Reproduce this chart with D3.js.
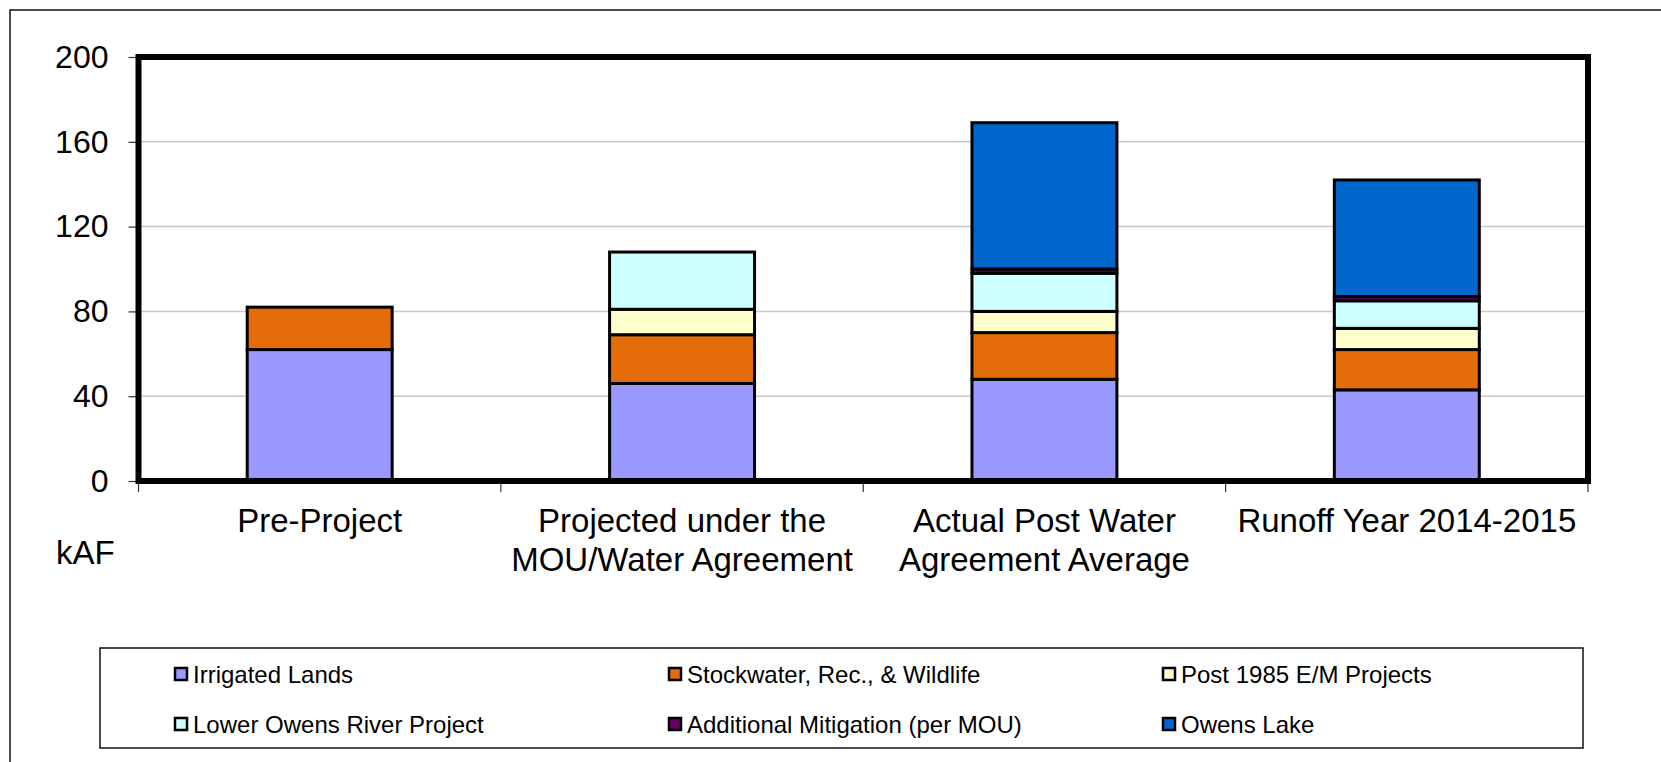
<!DOCTYPE html>
<html>
<head>
<meta charset="utf-8">
<script src="https://cdn.jsdelivr.net/npm/d3@7"></script>
<style>
  body { margin: 0; background: #fff; }
  text { font-family: Arial, "Liberation Sans", sans-serif; fill: #000; }
</style>
</head>
<body>
<div id="chart"></div>
<script>
// categories, one array of lines per label
const categories = ["pre", "projected", "actual", "runoff"]
const categoryLabels = [
    ["Pre-Project"],
    ["Projected under the", "MOU/Water Agreement"],
    ["Actual Post Water", "Agreement Average"],
    ["Runoff Year 2014-2015"]
]

// series (kAF), bottom to top
const seriesNames = ["Irrigated Lands", "Stockwater, Rec., & Wildlife", "Post 1985 E/M Projects",
    "Lower Owens River Project", "Additional Mitigation (per MOU)", "Owens Lake"]
const irrigated = [62, 46, 48, 43]
const stockwater = [20, 23, 22, 19]
const post1985 = [0, 12, 10, 10]
const lorp = [0, 27, 18, 13]
const mitigation = [0, 0, 2, 2]
const owensLake = [0, 0, 69, 55]
const seriesColors = ["#9999FF", "#E46C0A", "#FFFFCC", "#CCFFFF", "#660066", "#0066CC"]

const yTicks = [0, 40, 80, 120, 160, 200]

const width = 1661
const height = 762
const plot = { left: 138.5, right: 1588, top: 57, bottom: 481 }

const allSeries = [irrigated, stockwater, post1985, lorp, mitigation, owensLake]
const data = categories.map((c, i) => {
    const row = { category: c }
    seriesNames.forEach((s, j) => row[s] = allSeries[j][i])
    return row
})

const stacked = d3.stack().keys(seriesNames)(data)

const xScale = d3.scaleBand()
    .domain(categories)
    .range([plot.left, plot.right])
    .paddingInner(0.6)
    .paddingOuter(0.3)

const yScale = d3.scaleLinear()
    .domain([0, 200])
    .range([plot.bottom, plot.top])

const color = d3.scaleOrdinal()
    .domain(seriesNames)
    .range(seriesColors)

const svg = d3.select("#chart")
    .append("svg")
    .attr("width", width)
    .attr("height", height)

// outer frame (runs off the right and bottom edges)
svg.append("rect")
    .attr("x", 10)
    .attr("y", 10)
    .attr("width", width + 20)
    .attr("height", height + 20)
    .attr("fill", "none")
    .attr("stroke", "#111")
    .attr("stroke-width", 1.5)

// gridlines
svg.selectAll("line.grid")
    .data(yTicks.slice(1, -1))
    .join("line")
    .attr("class", "grid")
    .attr("x1", plot.left)
    .attr("x2", plot.right)
    .attr("y1", d => yScale(d))
    .attr("y2", d => yScale(d))
    .attr("stroke", "#c8c8c8")
    .attr("stroke-width", 1.5)

// y axis
const yAxis = svg.append("g")
    .attr("transform", `translate(${plot.left},0)`)
    .call(d3.axisLeft(yScale).tickValues(yTicks).tickSize(10).tickPadding(20))
yAxis.select(".domain").remove()
yAxis.selectAll(".tick line").attr("stroke", "#333").attr("stroke-width", 1.2)
yAxis.selectAll(".tick text")
    .attr("font-size", 32)
    .attr("font-family", "Arial, 'Liberation Sans', sans-serif")
    .attr("fill", "#000")

// category ticks under the axis
const boundaries = categories.map(c => xScale(c) - xScale.step() * 0.3).concat([plot.right])
svg.selectAll("line.xtick")
    .data(boundaries)
    .join("line")
    .attr("class", "xtick")
    .attr("x1", d => d)
    .attr("x2", d => d)
    .attr("y1", plot.bottom)
    .attr("y2", plot.bottom + 11)
    .attr("stroke", "#333")
    .attr("stroke-width", 1.2)

// stacked bars
svg.selectAll("g.series")
    .data(stacked)
    .join("g")
    .attr("class", "series")
    .attr("fill", d => color(d.key))
    .selectAll("rect")
    .data(d => d.filter(p => p[1] - p[0] > 0))
    .join("rect")
    .attr("x", d => xScale(d.data.category))
    .attr("y", d => yScale(d[1]))
    .attr("width", xScale.bandwidth())
    .attr("height", d => yScale(d[0]) - yScale(d[1]))
    .attr("stroke", "#000")
    .attr("stroke-width", 3)

// plot frame
svg.append("rect")
    .attr("x", plot.left)
    .attr("y", plot.top)
    .attr("width", plot.right - plot.left)
    .attr("height", plot.bottom - plot.top)
    .attr("fill", "none")
    .attr("stroke", "#000")
    .attr("stroke-width", 6)

// category labels
svg.selectAll("text.cat")
    .data(categories)
    .join("text")
    .attr("class", "cat")
    .attr("x", d => xScale(d) + xScale.bandwidth() / 2)
    .attr("y", 532)
    .attr("text-anchor", "middle")
    .attr("font-size", 33)
    .selectAll("tspan")
    .data((d, i) => categoryLabels[i])
    .join("tspan")
    .attr("x", function () { return this.parentNode.getAttribute("x") })
    .attr("dy", (d, i) => i === 0 ? 0 : 39)
    .text(d => d)

svg.append("text")
    .attr("x", 56)
    .attr("y", 564)
    .attr("font-size", 33)
    .text("kAF")

// legend
svg.append("rect")
    .attr("x", 100)
    .attr("y", 648)
    .attr("width", 1483)
    .attr("height", 100)
    .attr("fill", "none")
    .attr("stroke", "#111")
    .attr("stroke-width", 1.5)

const legendX = [175, 669, 1163]
const legendY = [668, 718]

const legend = svg.selectAll("g.legend")
    .data(seriesNames)
    .join("g")
    .attr("class", "legend")
    .attr("transform", (d, i) => `translate(${legendX[i % 3]},${legendY[Math.floor(i / 3)]})`)

legend.append("rect")
    .attr("width", 12)
    .attr("height", 12)
    .attr("fill", d => color(d))
    .attr("stroke", "#000")
    .attr("stroke-width", 2.5)

legend.append("text")
    .attr("x", 18)
    .attr("y", 15)
    .attr("font-size", 24)
    .text(d => d)
</script>
</body>
</html>
